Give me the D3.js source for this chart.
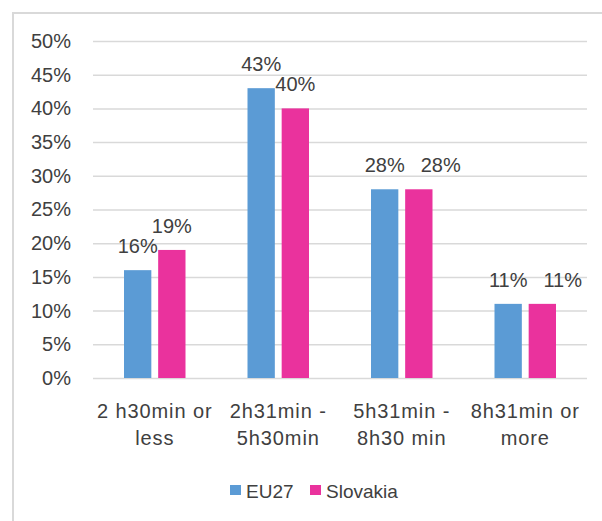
<!DOCTYPE html>
<html>
<head>
<meta charset="utf-8">
<script src="https://cdn.jsdelivr.net/npm/d3@7"></script>
<style>
  html, body { margin: 0; padding: 0; background: #fff; }
  svg { display: block; }
  text { font-family: "Liberation Sans", Arial, sans-serif; fill: #404040; }
</style>
</head>
<body>
<svg id="chart" width="602" height="521"></svg>
<script>
const categories = ["2 h30min or less", "2h31min - 5h30min", "5h31min - 8h30 min", "8h31min or more"];
const categoryLines = [["2 h30min or", "less"], ["2h31min -", "5h30min"], ["5h31min -", "8h30 min"], ["8h31min or", "more"]];
const seriesNames = ["EU27", "Slovakia"];
const eu27 = [0.16, 0.43, 0.28, 0.11];
const slovakia = [0.19, 0.40, 0.28, 0.11];
const yTicks = [0, 0.05, 0.10, 0.15, 0.20, 0.25, 0.30, 0.35, 0.40, 0.45, 0.50];
const colors = ["#5B9BD5", "#EA329D"];

const seriesValues = [eu27, slovakia];
const svg = d3.select("#chart");
const fmt = d3.format(".0%");

// border
svg.append("path")
  .attr("d", "M13,521 L13,13 L602,13")
  .attr("fill", "none")
  .attr("stroke", "#d9d9d9")
  .attr("stroke-width", 2);

const x = d3.scaleBand().domain(categories).range([93, 587]).padding(0);
const x1 = d3.scaleBand().domain(seriesNames).range([31, 92.5]).paddingInner(0.2);
const y = d3.scaleLinear().domain([0, 0.5]).range([378, 41]);

// gridlines + y labels
const yAxis = d3.axisLeft(y).tickValues(yTicks).tickSize(-(587 - 93)).tickPadding(22)
  .tickFormat(fmt);
const gy = svg.append("g").attr("transform", "translate(93,0)").call(yAxis);
gy.select(".domain").remove();
gy.selectAll(".tick line").attr("stroke", "#d9d9d9").attr("stroke-width", 1.5);
gy.selectAll(".tick text")
  .attr("font-size", 20).attr("fill", "#404040")
  .style("font-family", "'Liberation Sans', Arial, sans-serif");

// bars
const groups = svg.append("g").selectAll("g")
  .data(categories)
  .join("g")
  .attr("transform", d => `translate(${x(d)},0)`);

const rowData = (d, i) => seriesNames.map((s, j) => ({ s, v: seriesValues[j][i], j }));

groups.selectAll("rect")
  .data(rowData)
  .join("rect")
  .attr("x", d => x1(d.s))
  .attr("width", x1.bandwidth())
  .attr("y", d => y(d.v))
  .attr("height", d => y(0) - y(d.v))
  .attr("fill", d => colors[d.j]);

// value labels, with simple overlap avoidance (shift right label)
groups.each(function (cat, i) {
  const g = d3.select(this);
  const items = rowData(cat, i);
  let prevRight = -Infinity, prevY = null;
  items.forEach(d => {
    const t = g.append("text")
      .attr("text-anchor", "middle")
      .attr("font-size", 20)
      .attr("y", y(d.v) - 17)
      .text(fmt(d.v));
    const w = t.node().getComputedTextLength();
    let cx = x1(d.s) + x1.bandwidth() / 2;
    if (prevY !== null && Math.abs(prevY - y(d.v)) < 20 && cx - w / 2 < prevRight + 16) {
      cx = prevRight + 16 + w / 2;
    }
    t.attr("x", cx);
    prevRight = cx + w / 2;
    prevY = y(d.v);
  });
});

// x labels
const xl = svg.append("g").selectAll("text")
  .data(categories)
  .join("text")
  .attr("text-anchor", "middle")
  .attr("font-size", 20)
  .style("letter-spacing", "0.9px");
xl.each(function (d, i) {
  const t = d3.select(this);
  categoryLines[i].forEach((line, k) => {
    t.append("tspan")
      .attr("x", x(d) + x.bandwidth() / 2)
      .attr("y", 418 + k * 27)
      .text(line);
  });
});

// legend
const legendX = [230, 310];
const lg = svg.append("g").selectAll("g")
  .data(seriesNames)
  .join("g")
  .attr("transform", (d, i) => `translate(${legendX[i]},485)`);
lg.append("rect").attr("width", 11).attr("height", 10).attr("fill", (d, i) => colors[i]);
lg.append("text").attr("x", 16).attr("y", 13).attr("font-size", 19).text(d => d);
</script>
</body>
</html>
